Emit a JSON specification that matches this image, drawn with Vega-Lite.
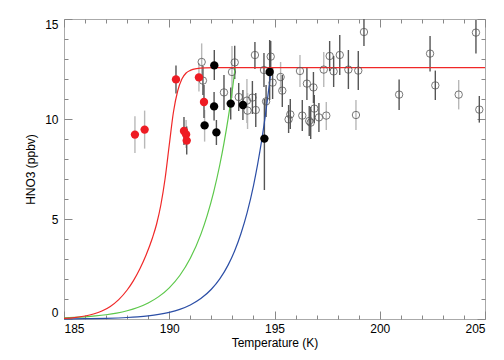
{
  "$schema": "https://vega.github.io/schema/vega-lite/v6.json",
  "width": 421,
  "height": 300,
  "autosize": "none",
  "padding": {"left": 64, "top": 19, "right": 19, "bottom": 41},
  "config": {
    "view": {"stroke": "#aaaaaa", "strokeWidth": 1},
    "font": "Liberation Sans",
    "axis": {
      "domain": false,
      "grid": false,
      "zindex": 1,
      "tickColor": "#888888",
      "tickWidth": 1,
      "labelFont": "Liberation Sans",
      "labelFontSize": 12,
      "labelColor": "#000000",
      "titleFont": "Liberation Sans",
      "titleFontSize": 12,
      "titleFontWeight": "normal",
      "titleColor": "#000000",
      "labelOverlap": false
    }
  },
  "datasets": {
    "curves": [
      {"T": 185.0, "v": 0.008, "s": "blue"},
      {"T": 186.0, "v": 0.016, "s": "blue"},
      {"T": 187.0, "v": 0.035, "s": "blue"},
      {"T": 188.0, "v": 0.074, "s": "blue"},
      {"T": 188.5, "v": 0.108, "s": "blue"},
      {"T": 189.0, "v": 0.157, "s": "blue"},
      {"T": 189.5, "v": 0.228, "s": "blue"},
      {"T": 190.0, "v": 0.332, "s": "blue"},
      {"T": 190.5, "v": 0.482, "s": "blue"},
      {"T": 191.0, "v": 0.702, "s": "blue"},
      {"T": 191.5, "v": 1.021, "s": "blue"},
      {"T": 192.0, "v": 1.486, "s": "blue"},
      {"T": 192.4, "v": 2.006, "s": "blue"},
      {"T": 192.8, "v": 2.707, "s": "blue"},
      {"T": 193.1, "v": 3.39, "s": "blue"},
      {"T": 193.4, "v": 4.25, "s": "blue"},
      {"T": 193.7, "v": 5.32, "s": "blue"},
      {"T": 194.0, "v": 6.66, "s": "blue"},
      {"T": 194.2, "v": 7.74, "s": "blue"},
      {"T": 194.4, "v": 8.99, "s": "blue"},
      {"T": 194.6, "v": 10.44, "s": "blue"},
      {"T": 194.75, "v": 11.69, "s": "blue"},
      {"T": 194.85, "v": 12.57, "s": "blue"},
      {"T": 185.0, "v": 0.056, "s": "green"},
      {"T": 185.5, "v": 0.078, "s": "green"},
      {"T": 186.0, "v": 0.109, "s": "green"},
      {"T": 186.5, "v": 0.152, "s": "green"},
      {"T": 187.0, "v": 0.212, "s": "green"},
      {"T": 187.5, "v": 0.296, "s": "green"},
      {"T": 188.0, "v": 0.413, "s": "green"},
      {"T": 188.5, "v": 0.576, "s": "green"},
      {"T": 189.0, "v": 0.803, "s": "green"},
      {"T": 189.5, "v": 1.119, "s": "green"},
      {"T": 190.0, "v": 1.56, "s": "green"},
      {"T": 190.5, "v": 2.176, "s": "green"},
      {"T": 191.0, "v": 3.034, "s": "green"},
      {"T": 191.5, "v": 4.23, "s": "green"},
      {"T": 191.8, "v": 5.17, "s": "green"},
      {"T": 192.1, "v": 6.31, "s": "green"},
      {"T": 192.4, "v": 7.7, "s": "green"},
      {"T": 192.6, "v": 8.79, "s": "green"},
      {"T": 192.8, "v": 10.04, "s": "green"},
      {"T": 193.0, "v": 11.47, "s": "green"},
      {"T": 193.13, "v": 12.57, "s": "green"},
      {"T": 185.0, "v": 0.03, "s": "red"},
      {"T": 185.5, "v": 0.07, "s": "red"},
      {"T": 186.0, "v": 0.15, "s": "red"},
      {"T": 186.4, "v": 0.25, "s": "red"},
      {"T": 186.8, "v": 0.4, "s": "red"},
      {"T": 187.2, "v": 0.63, "s": "red"},
      {"T": 187.6, "v": 0.97, "s": "red"},
      {"T": 188.0, "v": 1.45, "s": "red"},
      {"T": 188.3, "v": 1.92, "s": "red"},
      {"T": 188.6, "v": 2.5, "s": "red"},
      {"T": 188.9, "v": 3.2, "s": "red"},
      {"T": 189.2, "v": 4.05, "s": "red"},
      {"T": 189.4, "v": 4.75, "s": "red"},
      {"T": 189.6, "v": 5.7, "s": "red"},
      {"T": 189.8, "v": 7.0, "s": "red"},
      {"T": 190.0, "v": 8.7, "s": "red"},
      {"T": 190.2, "v": 10.35, "s": "red"},
      {"T": 190.4, "v": 11.4, "s": "red"},
      {"T": 190.6, "v": 12.0, "s": "red"},
      {"T": 190.8, "v": 12.3, "s": "red"},
      {"T": 191.0, "v": 12.43, "s": "red"},
      {"T": 191.3, "v": 12.52, "s": "red"},
      {"T": 191.7, "v": 12.56, "s": "red"},
      {"T": 192.2, "v": 12.57, "s": "red"},
      {"T": 205.0, "v": 12.57, "s": "red"}
    ],
    "obs": [
      {"T": 188.37, "v": 9.22, "lo": 8.3, "hi": 10.14, "kind": "red", "bar": "light"},
      {"T": 188.83, "v": 9.47, "lo": 8.52, "hi": 10.42, "kind": "red", "bar": "light"},
      {"T": 190.32, "v": 11.98, "lo": 11.28, "hi": 12.68, "kind": "red", "bar": "dark"},
      {"T": 190.7, "v": 9.4, "lo": 8.7, "hi": 10.1, "kind": "red", "bar": "dark"},
      {"T": 190.8, "v": 9.23, "lo": 8.55, "hi": 9.95, "kind": "red", "bar": "light"},
      {"T": 190.83, "v": 8.92, "lo": 8.22, "hi": 9.62, "kind": "red", "bar": "dark"},
      {"T": 191.41, "v": 12.08, "lo": 11.38, "hi": 12.8, "kind": "red", "bar": "light"},
      {"T": 191.65, "v": 10.85, "lo": 10.05, "hi": 11.7, "kind": "red", "bar": "dark"},
      {"T": 192.14, "v": 12.68, "lo": 11.95, "hi": 13.45, "kind": "black", "bar": "dark"},
      {"T": 191.68, "v": 9.68, "lo": 8.87, "hi": 10.45, "kind": "black", "bar": "light"},
      {"T": 192.13, "v": 10.63, "lo": 9.93, "hi": 11.35, "kind": "black", "bar": "dark"},
      {"T": 192.24, "v": 9.33, "lo": 8.7, "hi": 9.95, "kind": "black", "bar": "dark"},
      {"T": 192.92, "v": 10.77, "lo": 9.97, "hi": 11.57, "kind": "black", "bar": "dark"},
      {"T": 193.5, "v": 10.7, "lo": 9.95, "hi": 11.45, "kind": "black", "bar": "dark"},
      {"T": 194.52, "v": 9.02, "lo": 6.45, "hi": 11.0, "kind": "black", "bar": "dark"},
      {"T": 194.77, "v": 12.35, "lo": 10.95, "hi": 13.95, "kind": "black", "bar": "dark"},
      {"T": 191.54, "v": 12.85, "lo": 11.95, "hi": 13.78, "kind": "open", "bar": "light"},
      {"T": 191.6, "v": 11.92, "lo": 11.2, "hi": 12.65, "kind": "open", "bar": "dark"},
      {"T": 192.6, "v": 11.33, "lo": 10.45, "hi": 12.2, "kind": "open", "bar": "dark"},
      {"T": 192.98, "v": 12.35, "lo": 11.05, "hi": 13.65, "kind": "open", "bar": "light"},
      {"T": 193.11, "v": 12.83, "lo": 12.0, "hi": 13.66, "kind": "open", "bar": "dark"},
      {"T": 193.3, "v": 11.1, "lo": 10.4, "hi": 11.8, "kind": "open", "bar": "dark"},
      {"T": 193.69, "v": 10.92, "lo": 9.8, "hi": 12.0, "kind": "open", "bar": "light"},
      {"T": 193.72, "v": 10.42, "lo": 9.5, "hi": 11.3, "kind": "open", "bar": "light"},
      {"T": 193.95, "v": 11.07, "lo": 10.25, "hi": 11.9, "kind": "open", "bar": "dark"},
      {"T": 194.07, "v": 13.2, "lo": 12.5, "hi": 13.85, "kind": "open", "bar": "dark"},
      {"T": 194.11, "v": 10.45, "lo": 9.6, "hi": 11.3, "kind": "open", "bar": "dark"},
      {"T": 194.5, "v": 12.45, "lo": 11.6, "hi": 13.3, "kind": "open", "bar": "dark"},
      {"T": 194.6, "v": 10.88, "lo": 10.1, "hi": 11.7, "kind": "open", "bar": "dark"},
      {"T": 194.82, "v": 13.12, "lo": 12.35, "hi": 13.9, "kind": "open", "bar": "dark"},
      {"T": 194.91, "v": 11.82, "lo": 11.0, "hi": 12.6, "kind": "open", "bar": "dark"},
      {"T": 195.29, "v": 12.1, "lo": 11.35, "hi": 12.85, "kind": "open", "bar": "light"},
      {"T": 195.37, "v": 11.42, "lo": 10.6, "hi": 12.2, "kind": "open", "bar": "dark"},
      {"T": 195.67, "v": 9.98, "lo": 9.3, "hi": 10.7, "kind": "open", "bar": "dark"},
      {"T": 195.75, "v": 10.23, "lo": 9.5, "hi": 11.0, "kind": "open", "bar": "dark"},
      {"T": 196.21, "v": 12.4, "lo": 11.6, "hi": 13.2, "kind": "open", "bar": "light"},
      {"T": 196.32, "v": 10.17, "lo": 9.4, "hi": 10.95, "kind": "open", "bar": "dark"},
      {"T": 196.54, "v": 11.77, "lo": 10.95, "hi": 12.6, "kind": "open", "bar": "dark"},
      {"T": 196.65, "v": 9.9, "lo": 9.15, "hi": 10.65, "kind": "open", "bar": "dark"},
      {"T": 196.72, "v": 9.82, "lo": 9.0, "hi": 10.6, "kind": "open", "bar": "dark"},
      {"T": 196.85, "v": 11.58, "lo": 10.8, "hi": 12.35, "kind": "open", "bar": "dark"},
      {"T": 196.89, "v": 10.52, "lo": 9.8, "hi": 11.2, "kind": "open", "bar": "dark"},
      {"T": 197.11, "v": 10.08, "lo": 9.35, "hi": 10.8, "kind": "open", "bar": "dark"},
      {"T": 197.34, "v": 12.47, "lo": 11.6, "hi": 13.35, "kind": "open", "bar": "light"},
      {"T": 197.46, "v": 10.17, "lo": 9.45, "hi": 10.85, "kind": "open", "bar": "light"},
      {"T": 197.62, "v": 13.15, "lo": 12.4, "hi": 13.9, "kind": "open", "bar": "dark"},
      {"T": 197.81, "v": 12.38, "lo": 11.6, "hi": 13.15, "kind": "open", "bar": "dark"},
      {"T": 198.1, "v": 13.2, "lo": 12.2, "hi": 14.2, "kind": "open", "bar": "dark"},
      {"T": 198.51, "v": 12.47, "lo": 11.5, "hi": 13.45, "kind": "open", "bar": "dark"},
      {"T": 198.87, "v": 10.2, "lo": 9.45, "hi": 10.95, "kind": "open", "bar": "light"},
      {"T": 198.98, "v": 12.42, "lo": 11.45, "hi": 13.4, "kind": "open", "bar": "dark"},
      {"T": 199.25, "v": 14.35, "lo": 13.65, "hi": 15.0, "kind": "open", "bar": "dark"},
      {"T": 200.92, "v": 11.22, "lo": 10.45, "hi": 11.98, "kind": "open", "bar": "dark"},
      {"T": 202.39, "v": 13.27, "lo": 12.37, "hi": 14.15, "kind": "open", "bar": "dark"},
      {"T": 202.64, "v": 11.68, "lo": 10.95, "hi": 12.42, "kind": "open", "bar": "dark"},
      {"T": 203.75, "v": 11.22, "lo": 10.48, "hi": 11.95, "kind": "open", "bar": "light"},
      {"T": 204.57, "v": 14.32, "lo": 13.28, "hi": 14.95, "kind": "open", "bar": "dark"},
      {"T": 204.73, "v": 10.47, "lo": 9.82, "hi": 11.15, "kind": "open", "bar": "dark"}
    ]
  },
  "resolve": {
    "axis": {"x": "independent", "y": "independent"}
  },
  "layer": [
    {
      "data": {"name": "obs"},
      "transform": [{"filter": "datum.bar === 'light'"}],
      "mark": {"type": "rule", "strokeWidth": 1.4, "color": "#b8b8b8"},
      "encoding": {
        "x": {
          "field": "T", "type": "quantitative",
          "scale": {"domain": [185, 205], "nice": false, "zero": false},
          "axis": {
            "orient": "bottom",
            "title": "Temperature (K)",
            "values": [185, 190, 195, 200, 205],
            "ticks": false,
            "labelPadding": 4,
            "titlePadding": 3
          }
        },
        "y": {
          "field": "lo", "type": "quantitative",
          "scale": {"domain": [0, 15], "nice": false, "zero": false},
          "axis": {
            "orient": "left",
            "title": "HNO3 (ppbv)",
            "values": [0, 5, 10, 15],
            "ticks": false,
            "labelPadding": 6,
            "labelFlush": true,
            "titlePadding": 7
          }
        },
        "y2": {"field": "hi"}
      }
    },
    {
      "data": {"name": "obs"},
      "transform": [{"filter": "datum.bar === 'dark'"}],
      "mark": {"type": "rule", "strokeWidth": 1.4, "color": "#555555"},
      "encoding": {
        "x": {
          "field": "T", "type": "quantitative",
          "axis": {"orient": "top", "offset": -300, "tickSize": 8, "labels": false, "title": null, "values": [185, 190, 195, 200, 205]}
        },
        "y": {
          "field": "lo", "type": "quantitative",
          "axis": {"orient": "right", "offset": -421, "tickSize": 8, "labels": false, "title": null, "values": [0, 5, 10, 15]}
        },
        "y2": {"field": "hi"}
      }
    },
    {
      "data": {"name": "curves"},
      "mark": {"type": "line", "strokeWidth": 1.2, "interpolate": "monotone"},
      "encoding": {
        "x": {
          "field": "T", "type": "quantitative",
          "axis": {"orient": "bottom", "offset": -300, "tickSize": 8, "labels": false, "title": null, "values": [185, 190, 195, 200, 205]}
        },
        "y": {
          "field": "v", "type": "quantitative",
          "axis": {"orient": "left", "offset": -421, "tickSize": 8, "labels": false, "title": null, "values": [0, 5, 10, 15]}
        },
        "color": {
          "field": "s", "type": "nominal",
          "scale": {"domain": ["blue", "green", "red"], "range": ["#2b4ea6", "#5cc84a", "#f02828"]},
          "legend": null
        }
      }
    },
    {
      "data": {"name": "obs"},
      "transform": [{"filter": "datum.kind === 'open'"}],
      "mark": {"type": "point", "filled": false, "size": 55, "strokeWidth": 0.8, "color": "#555555", "opacity": 1},
      "encoding": {
        "x": {
          "field": "T", "type": "quantitative",
          "axis": {"orient": "top", "offset": -300, "tickSize": 4, "labels": false, "title": null, "values": [186,187,188,189,191,192,193,194,196,197,198,199,201,202,203,204]}
        },
        "y": {
          "field": "v", "type": "quantitative",
          "axis": {"orient": "right", "offset": -421, "tickSize": 4, "labels": false, "title": null, "values": [1,2,3,4,6,7,8,9,11,12,13,14]}
        }
      }
    },
    {
      "data": {"name": "obs"},
      "transform": [{"filter": "datum.kind !== 'open'"}],
      "mark": {"type": "point", "filled": true, "size": 70, "opacity": 1},
      "encoding": {
        "x": {
          "field": "T", "type": "quantitative",
          "axis": {"orient": "bottom", "offset": -300, "tickSize": 4, "labels": false, "title": null, "values": [186,187,188,189,191,192,193,194,196,197,198,199,201,202,203,204]}
        },
        "y": {
          "field": "v", "type": "quantitative",
          "axis": {"orient": "left", "offset": -421, "tickSize": 4, "labels": false, "title": null, "values": [1,2,3,4,6,7,8,9,11,12,13,14]}
        },
        "fill": {
          "field": "kind", "type": "nominal",
          "scale": {"domain": ["red", "black"], "range": ["#ee1c24", "#000000"]},
          "legend": null
        }
      }
    }
  ]
}
